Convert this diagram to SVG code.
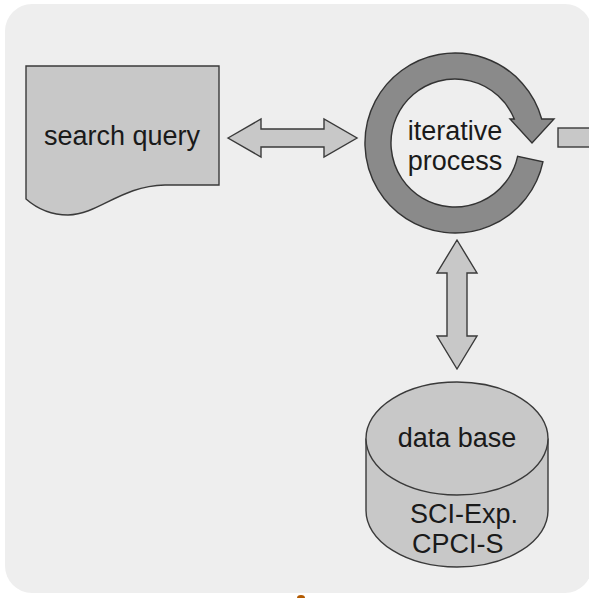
<svg xmlns="http://www.w3.org/2000/svg" width="589" height="598" viewBox="0 0 589 598">
<style>
.shape{fill:#c8c8c8;stroke:#3a3a3a;stroke-width:1.4;stroke-linejoin:miter}
.ring{fill:#8a8a8a;stroke:#333;stroke-width:1.4}
.lbl{font-family:"Liberation Sans",Arial,sans-serif;font-size:27px;fill:#1a1a1a}
.c{text-anchor:middle}
</style>
<rect x="0" y="0" width="589" height="598" fill="#ffffff"/>
<rect x="5" y="4" width="587" height="589" rx="27" fill="#eeeeee"/>
<g id="search-query">
<path class="shape" d="M26,66 H219 V185 H165 C120,186 100,214 68,215 C48,215 34,206 26,199 Z"/>
<text class="lbl c" x="122" y="145">search query</text>
</g>
<g id="iterative-process">
<path class="ring" d="M543,161.7 A90,90 0 1 1 541.7,119 H554 L532,143 L510,119 H514.3 A64,64 0 1 0 517.6,156.3 Z"/>
<text class="lbl c" x="455" y="140">iterative</text>
<text class="lbl c" x="455" y="170">process</text>
</g>
<g id="data-base">
<path class="shape" d="M366,438.5 V510.5 A91,56.5 0 0 0 548,510.5 V438.5"/>
<ellipse class="shape" cx="457" cy="438.5" rx="91" ry="56.5"/>
<text class="lbl c" x="457" y="447">data base</text>
<text class="lbl" x="410" y="523">SCI-Exp.</text>
<text class="lbl" x="412" y="553">CPCI-S</text>
</g>
<g id="connectors">
<polygon class="shape" points="228,138 261,119 261,129 324,129 324,119 357,138 324,157 324,147 261,147 261,157"/>
<polygon class="shape" points="457,240 477,273 467,273 467,336 477,336 457,369 437,336 447,336 447,273 437,273"/>
<rect class="shape" x="558" y="128" width="40" height="19"/>
</g>
<ellipse cx="301" cy="598" rx="4" ry="3" fill="#b35a00"/>
</svg>
